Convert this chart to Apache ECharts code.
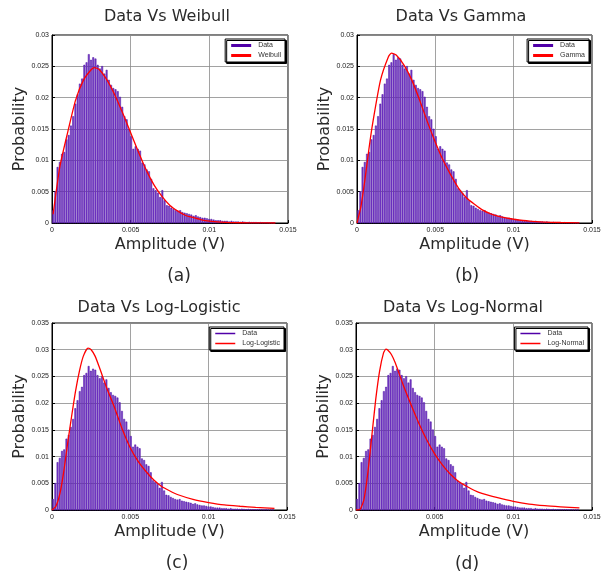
<!DOCTYPE html>
<html>
<head>
<meta charset="utf-8">
<script src="https://cdn.jsdelivr.net/npm/echarts@6/dist/echarts.min.js"></script>
<style>html,body{margin:0;padding:0;background:#fff}#c{width:610px;height:577px}</style>
</head>
<body>
<div id="c"></div>
<script>
// ---- data ----
const binWidth = 0.0001417;
const dataProb = [
 0.0020,0.0050,0.0089,0.0097,0.0110,0.0113,0.0133,0.0140,0.0155,0.0170,
 0.0190,0.0205,0.0222,0.0230,0.0252,0.0256,0.0269,0.0260,0.0264,0.0262,
 0.0252,0.0246,0.0250,0.0238,0.0244,0.0228,0.0220,0.0215,0.0213,0.0210,
 0.0201,0.0185,0.0170,0.0165,0.0150,0.0138,0.0118,0.0122,0.0118,0.0115,
 0.0096,0.0093,0.0085,0.0082,0.0070,0.0055,0.0052,0.0048,0.0041,0.0052,
 0.0036,0.0028,0.0027,0.0024,0.0022,0.0020,0.0019,0.0020,0.0017,0.0016,
 0.0015,0.0014,0.0013,0.0011,0.0012,0.0010,0.0009,0.0008,0.0008,0.0007,
 0.0006,0.0006,0.0005,0.0004,0.0004,0.0004,0.0003,0.0003,0.0003,0.0002,
 0.0003,0.0002,0.0002,0.0002,0.00015,0.0002,0.00015,0.0001,0.00015,0.0001,
 0.0001,0.0001,0.00008,0.0001,0.00008,0.00006,0.00008,0.00005,0.00005,0.00005
];
const weibullX = [0.00007,0.0005,0.001,0.0015,0.002,0.0025,0.0027,0.003,0.0035,0.004,0.0045,0.005,0.0055,0.006,0.0065,0.007,0.0075,0.008,0.0085,0.009,0.0095,0.01,0.011,0.012,0.013,0.0142];
const weibullY = [0.0014,0.0090,0.0145,0.0196,0.0228,0.0245,0.0248,0.0245,0.0228,0.0204,0.0175,0.0144,0.0113,0.0084,0.0060,0.0042,0.0028,0.0019,0.0012,0.00085,0.0005,0.0003,0.0001,0.00004,0.00001,0.0];
const gammaX = [0,0.00025,0.0005,0.00075,0.001,0.0015,0.002,0.0022,0.0025,0.003,0.0035,0.004,0.0045,0.005,0.0055,0.006,0.0065,0.007,0.0075,0.008,0.0085,0.009,0.0095,0.01,0.011,0.012,0.013,0.0142];
const gammaY = [0,0.0026,0.0068,0.0116,0.0159,0.0228,0.0265,0.0271,0.0268,0.0252,0.0228,0.0196,0.0161,0.0129,0.0100,0.0076,0.0055,0.0040,0.0030,0.0021,0.0015,0.0011,0.0008,0.0006,0.0003,0.00015,0.00008,0.00003];
const loglogX = [0,0.00025,0.0005,0.00075,0.001,0.00125,0.0015,0.00175,0.002,0.0023,0.0025,0.00275,0.003,0.0035,0.004,0.0045,0.005,0.0055,0.006,0.0065,0.007,0.0075,0.008,0.009,0.01,0.011,0.012,0.013,0.0142];
const loglogY = [0,0.0007,0.0030,0.0072,0.0125,0.0175,0.0222,0.0260,0.0288,0.0303,0.0300,0.0288,0.0269,0.0228,0.0191,0.0150,0.0116,0.0091,0.0072,0.0056,0.0044,0.0036,0.0029,0.0020,0.0014,0.00094,0.0007,0.0005,0.0003];
const lognormX = [0,0.00025,0.0005,0.00075,0.001,0.00125,0.0015,0.00175,0.0019,0.002,0.00225,0.0025,0.003,0.0035,0.004,0.0045,0.005,0.0055,0.006,0.0065,0.007,0.0075,0.008,0.009,0.01,0.011,0.012,0.013,0.0142];
const lognormY = [0,0.0001,0.0019,0.0069,0.0137,0.0206,0.0260,0.0294,0.0301,0.0300,0.0291,0.0275,0.0234,0.0197,0.0162,0.0131,0.0105,0.0084,0.0067,0.0054,0.0045,0.0037,0.0031,0.0023,0.0016,0.0011,0.0008,0.0006,0.0004];
const titles = ['Data Vs Weibull','Data Vs Gamma','Data Vs Log-Logistic','Data Vs Log-Normal'];
const fitNames = ['Weibull','Gamma','Log-Logistic','Log-Normal'];
const panelLabels = ['(a)','(b)','(c)','(d)'];
const xTicks = [0, 0.015, 0.005];       // min, max, interval
const yMaxes = [0.03, 0.03, 0.035, 0.035];

// ---- layout ----
const grids = [
  {left:52, top:35, width:236, height:188},
  {left:357, top:35, width:235, height:188},
  {left:52, top:323, width:235, height:187},
  {left:356, top:323, width:236, height:187}
];
const titlePos = [[167,17],[461,17],[159,308],[463,308]];
const labelPos = [[179,277],[467,277],[177,564],[467,565]];
const legendPos = [{right:325,top:39},{right:21,top:39},{right:326,top:327},{right:22,top:327}];
const dataLegendH = [3,3,1.5,1.5];

const fitX = [weibullX, gammaX, loglogX, lognormX];
const fitY = [weibullY, gammaY, loglogY, lognormY];
const histData = dataProb.map((v,i)=>[(i+0.5)*binWidth, v]);

const FONT = 'DejaVu Sans';
const option = {
  animation:false,
  backgroundColor:'#fff',
  grid: grids.map(g=>Object.assign({show:true, borderColor:'#000', borderWidth:1, backgroundColor:'transparent'}, g)),
  xAxis: grids.map((g,i)=>({
    type:'value', gridIndex:i, min:xTicks[0], max:xTicks[1], interval:xTicks[2],
    name:'Amplitude (V)', nameLocation:'middle', nameGap:14,
    nameTextStyle:{fontFamily:FONT, fontSize:16, color:'#2a2a2a'},
    axisLine:{show:true, onZero:false, lineStyle:{color:'#000', width:1}},
    axisTick:{show:true, inside:true, length:3, lineStyle:{color:'#000'}},
    axisLabel:{fontFamily:'Liberation Sans', fontSize:7, color:'#222', margin:4},
    splitLine:{show:true, lineStyle:{color:'#8a8a8a', width:0.8}}
  })),
  yAxis: grids.map((g,i)=>({
    type:'value', gridIndex:i, min:0, max:yMaxes[i], interval:0.005,
    name:'Probability', nameLocation:'middle', nameGap:20,
    nameTextStyle:{fontFamily:FONT, fontSize:16, color:'#2a2a2a'},
    axisLine:{show:true, lineStyle:{color:'#000', width:1}},
    axisTick:{show:true, inside:true, length:3, lineStyle:{color:'#000'}},
    axisLabel:{fontFamily:'Liberation Sans', fontSize:7, color:'#222', margin:3},
    splitLine:{show:true, lineStyle:{color:'#8a8a8a', width:0.8}}
  })),
  legend: grids.map((g,i)=>Object.assign({
    orient:'vertical', itemWidth:20, itemGap:3, padding:[3,4,3,6],
    borderColor:'#000', borderWidth:1, backgroundColor:'#fff',
    shadowColor:'#000', shadowOffsetX:1.5, shadowOffsetY:1.5, shadowBlur:0,
    textStyle:{fontFamily:'Liberation Sans', fontSize:7, color:'#333', padding:[0,0,0,2]},
    selectedMode:false,
    data:[
      {name:'Data', icon:'rect', itemHeight:dataLegendH[i], itemStyle:{color:'#5000a8'}},
      {name:fitNames[i], icon:'rect', itemStyle:{color:'#ff0000'}}
    ],
    itemHeight:dataLegendH[i]
  }, legendPos[i])),
  series: [],
  graphic: []
};
grids.forEach((g,i)=>{
  option.series.push({
    type:'custom', name:'Data', xAxisIndex:i, yAxisIndex:i,
    itemStyle:{color:'#5000a8'},
    data: histData,
    encode:{x:0,y:1},
    renderItem:(params, api)=>{
      const x = api.value(0), y = api.value(1);
      const p0 = api.coord([x - binWidth/2, y]);
      const p1 = api.coord([x + binWidth/2, 0]);
      const w = p1[0]-p0[0];
      return {type:'rect',
        shape:{x:p0[0]+w*0.2, y:p0[1], width:w*0.6, height:p1[1]-p0[1]},
        style:{fill:'#7a40cc', stroke:'#4a0fa0', lineWidth:0.5}};
    }
  });
  option.series.push({
    type:'line', name:fitNames[i], xAxisIndex:i, yAxisIndex:i,
    data: fitX[i].map((x,k)=>[x, fitY[i][k]]),
    showSymbol:false, smooth:0.2,
    lineStyle:{color:'#ff0000', width:1.3}, itemStyle:{color:'#ff0000'}, z:5
  });
  option.graphic.push({type:'text', x:titlePos[i][0], y:titlePos[i][1],
    style:{text:titles[i], fontFamily:FONT, fontSize:16, fill:'#2a2a2a', align:'center', verticalAlign:'middle'}});
  option.graphic.push({type:'text', x:labelPos[i][0], y:labelPos[i][1],
    style:{text:panelLabels[i], fontFamily:FONT, fontSize:17, fill:'#2a2a2a', align:'center', verticalAlign:'middle'}});
});
const chart = echarts.init(document.getElementById('c'), null, {renderer:'canvas'});
chart.setOption(option);
</script>
</body>
</html>
